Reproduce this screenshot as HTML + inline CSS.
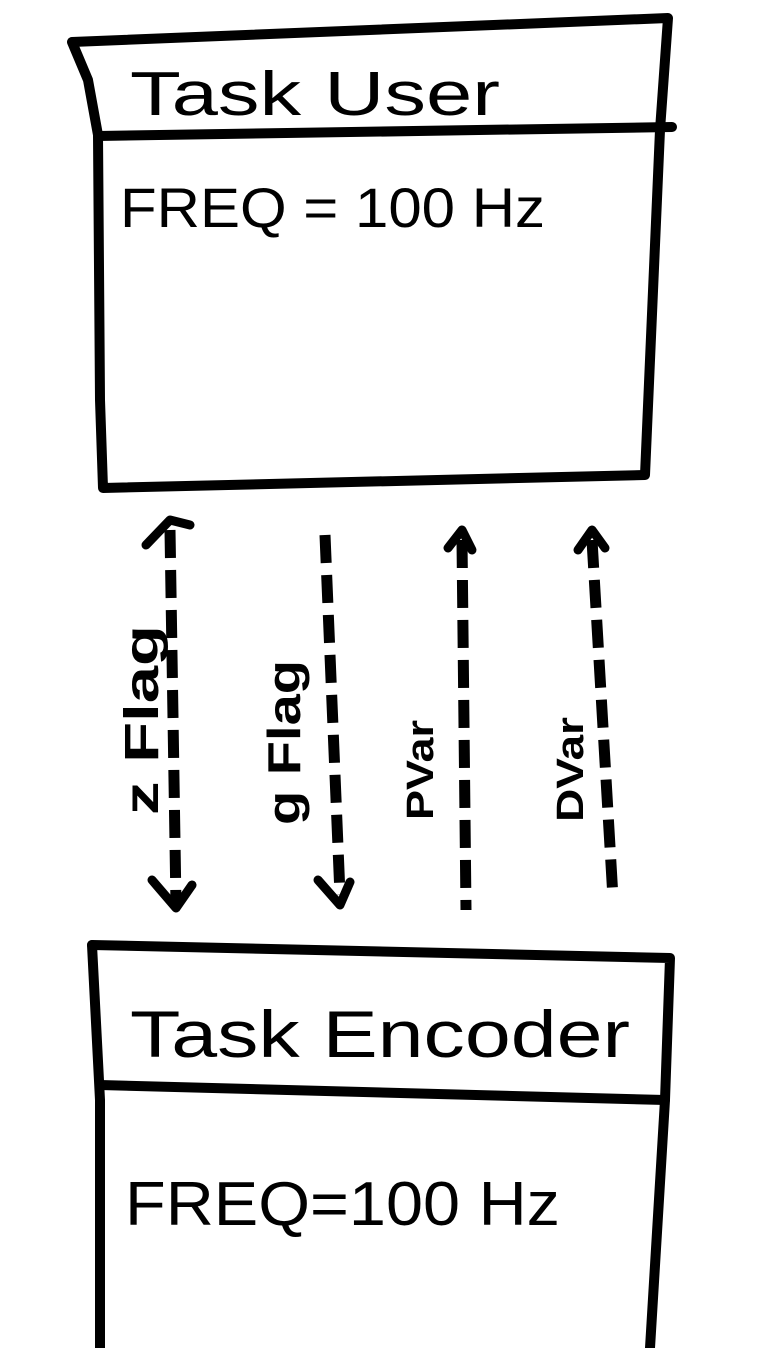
<!DOCTYPE html>
<html><head><meta charset="utf-8"><style>
html,body{margin:0;padding:0;background:#fff;}
svg{display:block;}
text{font-family:"Liberation Sans",sans-serif;fill:#000;}
</style></head><body>
<svg width="780" height="1348" viewBox="0 0 780 1348" xmlns="http://www.w3.org/2000/svg">
<g fill="none" stroke="#000" stroke-width="10" stroke-linecap="round" stroke-linejoin="round">
<path d="M72,42 L668,18 L660,130 L645,475 L103,488 L100,400 L98,135 L88,80 Z"/>
<path d="M98,136 L672,127"/>
<path d="M92,945 L670,958 L665,1100 L650,1348"/>
<path d="M92,945 L100,1100 L100,1348"/>
<path d="M100,1085 L665,1100"/>
</g>
<g fill="none" stroke="#000" stroke-width="11" stroke-linecap="butt" stroke-dasharray="28 12">
<path d="M170,530 L176,905"/>
<path d="M325,535 L340,895"/>
<path d="M462,540 L466,910"/>
<path d="M592,540 L613,898"/>
</g>
<g fill="none" stroke="#000" stroke-width="9" stroke-linecap="round" stroke-linejoin="round">
<path d="M146,545 L170,520 L190,525"/>
<path d="M152,880 L176,908 L192,885"/>
<path d="M318,880 L340,905 L350,882"/>
<path d="M448,548 L462,530 L472,550"/>
<path d="M578,550 L592,530 L605,548"/>
</g>
<text x="130" y="115" font-size="62" textLength="370" lengthAdjust="spacingAndGlyphs">Task User</text>
<text x="120" y="227" font-size="56" textLength="425" lengthAdjust="spacingAndGlyphs">FREQ = 100 Hz</text>
<text x="130" y="1057" font-size="66" textLength="500" lengthAdjust="spacingAndGlyphs">Task Encoder</text>
<text x="125" y="1225" font-size="62" textLength="435" lengthAdjust="spacingAndGlyphs">FREQ=100 Hz</text>
<text transform="translate(158,815) rotate(-90)" font-size="48" font-weight="bold" textLength="190" lengthAdjust="spacingAndGlyphs">z Flag</text>
<text transform="translate(300,825) rotate(-90)" font-size="46" font-weight="bold" textLength="165" lengthAdjust="spacingAndGlyphs">g Flag</text>
<text transform="translate(433,820) rotate(-90)" font-size="38" font-weight="bold" textLength="100" lengthAdjust="spacingAndGlyphs">PVar</text>
<text transform="translate(583,822) rotate(-90)" font-size="38" font-weight="bold" textLength="105" lengthAdjust="spacingAndGlyphs">DVar</text>
</svg>
</body></html>
